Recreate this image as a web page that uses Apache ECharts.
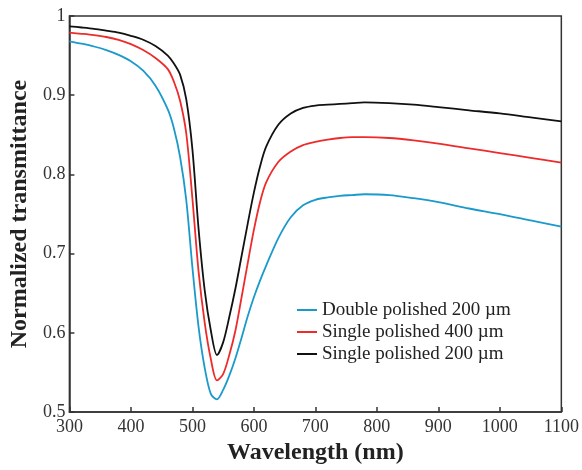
<!DOCTYPE html>
<html>
<head>
<meta charset="utf-8">
<script src="https://cdn.jsdelivr.net/npm/echarts@6/dist/echarts.min.js"></script>
<style>
  html, body { margin: 0; padding: 0; background: #fff; }
  #chart { width: 582px; height: 470px; }
</style>
</head>
<body>
<div id="chart"></div>
<script>
// wavelength grid (nm)
const wavelengths = [300, 320, 340, 360, 380, 400, 420, 440, 460, 470, 480, 490, 500, 510, 520, 530, 540, 550, 560, 570,
  580, 590, 600, 610, 620, 640, 660, 680, 700, 720, 740, 760, 780, 820, 860, 900, 950, 1000, 1050, 1100];

const doublePolished200 = [0.968, 0.965, 0.9615, 0.957, 0.951, 0.943, 0.931, 0.912, 0.882, 0.858, 0.822, 0.768, 0.683, 0.608, 0.556, 0.523, 0.516, 0.528, 0.546, 0.568,
  0.594, 0.621, 0.645, 0.666, 0.685, 0.720, 0.746, 0.761, 0.768, 0.771, 0.773, 0.774, 0.775, 0.774, 0.770, 0.765, 0.757, 0.750, 0.742, 0.734];

const singlePolished400 = [0.979, 0.9775, 0.9758, 0.9735, 0.970, 0.9645, 0.957, 0.947, 0.933, 0.917, 0.893, 0.852, 0.770, 0.678, 0.613, 0.567, 0.540, 0.548, 0.572, 0.603,
  0.645, 0.688, 0.730, 0.765, 0.790, 0.816, 0.829, 0.837, 0.841, 0.844, 0.846, 0.847, 0.847, 0.846, 0.843, 0.839, 0.833, 0.827, 0.821, 0.815];

const singlePolished200 = [0.987, 0.9855, 0.9838, 0.9815, 0.979, 0.975, 0.970, 0.962, 0.950, 0.940, 0.926, 0.895, 0.832, 0.732, 0.654, 0.603, 0.572, 0.588, 0.620, 0.656,
  0.697, 0.738, 0.777, 0.810, 0.835, 0.863, 0.877, 0.884, 0.887, 0.888, 0.889, 0.890, 0.891, 0.890, 0.888, 0.885, 0.881, 0.877, 0.872, 0.867];

const seriesNames = ['Double polished 200 µm', 'Single polished 400 µm', 'Single polished 200 µm'];
const seriesColors = ['#1a9acb', '#ee2b2b', '#111111'];

const font = 'Liberation Serif, Times New Roman, serif';

function pairs(values) {
  return wavelengths.map((w, i) => [w, values[i]]);
}

const chart = echarts.init(document.getElementById('chart'));

chart.setOption({
  animation: false,
  backgroundColor: '#fff',
  grid: {
    left: 69, top: 16, right: 20, bottom: 53,
    show: true, borderColor: '#333', borderWidth: 1.5
  },
  legend: {
    orient: 'vertical',
    left: 292, top: 294,
    itemWidth: 20, itemHeight: 2, itemGap: 0,
    icon: 'rect',
    textStyle: { fontFamily: font, fontSize: 19, color: '#222', lineHeight: 22 },
    data: seriesNames
  },
  xAxis: {
    type: 'value',
    min: 300, max: 1100, interval: 100,
    name: 'Wavelength (nm)',
    nameLocation: 'middle',
    nameGap: 24,
    nameTextStyle: { fontFamily: font, fontSize: 24, fontWeight: 'bold', color: '#222' },
    axisLine: { lineStyle: { color: '#333', width: 1.5 } },
    axisTick: { inside: true, length: 5, lineStyle: { color: '#333', width: 1.5 } },
    axisLabel: { fontFamily: font, fontSize: 18, color: '#333', margin: 6, formatter: v => String(v) },
    splitLine: { show: false }
  },
  yAxis: {
    type: 'value',
    min: 0.5, max: 1, interval: 0.1,
    name: 'Normalized transmittance',
    nameLocation: 'middle',
    nameGap: 36,
    nameTextStyle: { fontFamily: font, fontSize: 24, fontWeight: 'bold', color: '#222' },
    axisLine: { show: true, lineStyle: { color: '#333', width: 1.5 } },
    axisTick: { show: true, inside: true, length: 5, lineStyle: { color: '#333', width: 1.5 } },
    axisLabel: {
      fontFamily: font, fontSize: 18, color: '#333', margin: 4,
      formatter: v => (Math.abs(v - 1) < 1e-9 ? '1' : v.toFixed(1))
    },
    splitLine: { show: false }
  },
  series: [doublePolished200, singlePolished400, singlePolished200].map((vals, i) => ({
    name: seriesNames[i],
    type: 'line',
    data: pairs(vals),
    smooth: 0.3,
    showSymbol: false,
    color: seriesColors[i],
    lineStyle: { width: 1.8, color: seriesColors[i] }
  }))
});
</script>
</body>
</html>
